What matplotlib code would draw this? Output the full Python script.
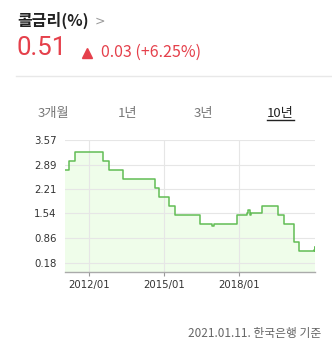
import matplotlib
matplotlib.use("Agg")
import matplotlib.pyplot as plt
import matplotlib.dates as mdates
from matplotlib.lines import Line2D
import datetime as dt

plt.rcParams['font.family'] = ['Noto Sans CJK KR', 'DejaVu Sans']

# ---- data ----
dates = ["2011-01-11", "2011-03-14", "2011-06-10", "2012-07-12", "2012-10-11",
         "2013-05-09", "2014-08-14", "2014-10-15", "2015-03-12", "2015-06-11",
         "2016-06-09", "2016-12-01", "2016-12-20", "2017-11-30", "2018-04-20",
         "2018-05-10", "2018-06-01", "2018-06-20", "2018-11-30", "2019-07-18",
         "2019-10-16", "2020-03-17", "2020-05-28", "2020-12-28", "2021-01-05",
         "2021-01-11"]
values = [2.73, 2.98, 3.25, 3.00, 2.75,
          2.50, 2.25, 2.00, 1.75, 1.50,
          1.25, 1.19, 1.25, 1.50, 1.55,
          1.64, 1.50, 1.56, 1.75, 1.50,
          1.25, 0.75, 0.50, 0.52, 0.60,
          0.51]
ytick_vals = [0.18, 0.86, 1.54, 2.21, 2.89, 3.57]
xtick_dates = ["2012-01-01", "2015-01-01", "2018-01-01"]
xtick_labels = ["2012/01", "2015/01", "2018/01"]
tabs = ["3개월", "1년", "3년", "10년"]
title = "콜금리(%)"
current = "0.51"
change = "0.03 (+6.25%)"
footer = "2021.01.11. 한국은행 기준"

W, H = 332, 355
fig = plt.figure(figsize=(W / 100, H / 100), dpi=100)
fig.patch.set_facecolor('white')

def fx(x):
    return x / W

def fy(y):
    return 1 - y / H

red = '#e5404b'

# header
fig.text(fx(17), fy(20.5), title, fontsize=11.5, fontweight='bold', color='#222222',
         va='center', ha='left')
fig.text(fx(95), fy(21), ">", fontsize=9, color='#999999', va='center', ha='left',
         family=['DejaVu Sans'])
fig.text(fx(17), fy(48.3), current, fontsize=18.5, color=red, va='center', ha='left',
         family=['Roboto', 'DejaVu Sans'], fontweight='normal')
fig.add_artist(Line2D([fx(86.7)], [fy(52.5)], marker='^', markersize=7.5, color=red,
                      linestyle='none', transform=fig.transFigure))
fig.text(fx(101), fy(52.5), change, fontsize=11.5, color=red, va='center', ha='left')
fig.add_artist(Line2D([fx(16), fx(332)], [fy(76), fy(76)], color='#e8e8e8', lw=1,
                      transform=fig.transFigure))

tab_x = [53, 128, 203, 280]
for i, (t, x) in enumerate(zip(tabs, tab_x)):
    col = '#222222' if i == 3 else '#777777'
    fig.text(fx(x), fy(113), t, fontsize=9.5, color=col, va='center', ha='center')
fig.add_artist(Line2D([fx(266.5), fx(293.5)], [fy(119.5), fy(119.5)], color='#222222',
                      lw=1, transform=fig.transFigure))

fig.text(fx(321), fy(333), footer, fontsize=8.5, color='#666666', va='center', ha='right')

# chart
ax = fig.add_axes([fx(65), 1 - 271.7 / H, (315 - 65) / W, (271.7 - 140) / H])
ax.set_facecolor('none')
d = [dt.datetime.strptime(s, "%Y-%m-%d") for s in dates]
dn = mdates.date2num(d)
ax.fill_between(dn, values, -1, step='post', color='#effdea', zorder=1, lw=0)
ax.plot(dn, values, drawstyle='steps-post', color='#62bd55', lw=1.1, zorder=3)

ax.set_xlim(dn[0], dn[-1])
ax.set_ylim(-0.07, 3.57)
ax.set_yticks(ytick_vals)
ax.set_yticklabels([f"{v:.2f}" for v in ytick_vals], family=['DejaVu Sans'])
xt = mdates.date2num([dt.datetime.strptime(s, "%Y-%m-%d") for s in xtick_dates])
ax.set_xticks(xt)
ax.set_xticklabels(xtick_labels, family=['DejaVu Sans'])
ax.tick_params(axis='y', length=0, pad=6, labelsize=7.3, labelcolor='#333333')
ax.tick_params(axis='x', length=3, width=0.8, color='#999999', pad=3, labelsize=7.3,
               labelcolor='#333333')
ax.grid(True, color='#e6e6e6', lw=0.8, zorder=2)
ax.set_axisbelow(False)
for s in ['left', 'right', 'top']:
    ax.spines[s].set_visible(False)
ax.spines['bottom'].set_color('#aaaaaa')
ax.spines['bottom'].set_linewidth(1)
ax.spines['bottom'].set_zorder(4)

fig.savefig('out.png', dpi=100, facecolor='white')
